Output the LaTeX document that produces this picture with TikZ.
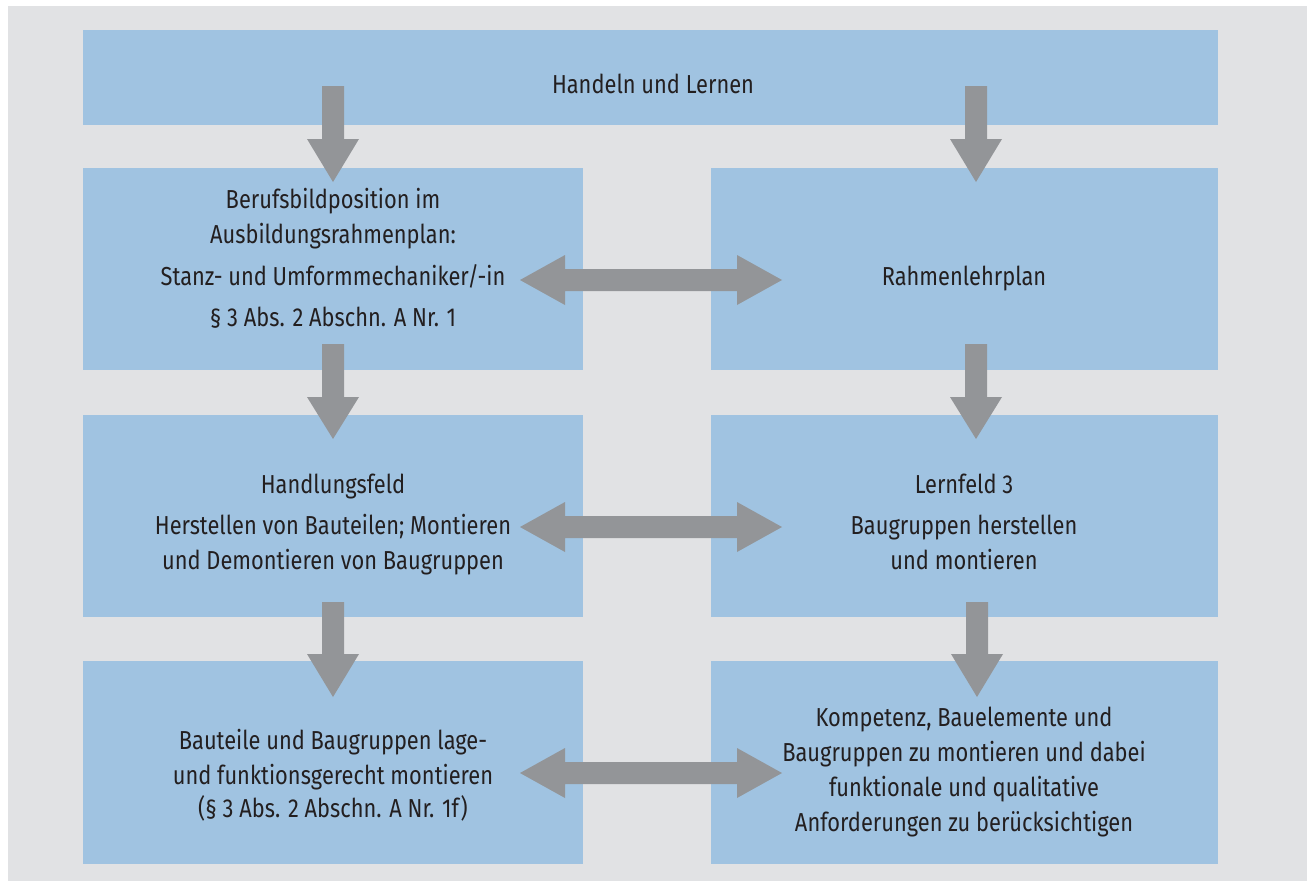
\documentclass[tikz,border=0pt]{standalone}
\usepackage{fontspec}
\setmainfont{Fira Sans}[FakeStretch=0.84]
\usetikzlibrary{calc}
\definecolor{bggray}{HTML}{E1E2E4}
\definecolor{boxblue}{HTML}{A0C3E1}
\definecolor{arrgray}{HTML}{939598}
\definecolor{txt}{HTML}{231F20}
\tikzset{
  box/.style={fill=boxblue, draw=none},
  lbl/.style={anchor=base, inner sep=0pt, text=txt, font=\fontsize{26}{35}\selectfont},
  blockarrow/.style={fill=arrgray, draw=none}
}
\newcommand{\lines}[1]{\begin{tabular}[t]{@{}c@{}}#1\end{tabular}}
\newcommand{\downarr}[4]{% x, shaft top, head base, tip
  \fill[blockarrow] (#1-11,#2) -- (#1+11,#2) -- (#1+11,#3) -- (#1+26,#3) -- (#1,#4) -- (#1-26,#3) -- (#1-11,#3) -- cycle;}
\newcommand{\duoarr}[1]{% y centre
  \fill[blockarrow] (520,#1) -- (565,#1-25) -- (565,#1-11) -- (737,#1-11) -- (737,#1-25) -- (782,#1) -- (737,#1+25) -- (737,#1+11) -- (565,#1+11) -- (565,#1+25) -- cycle;}
\begin{document}
\begin{tikzpicture}[x=1pt,y=-1pt]
\useasboundingbox (0,0) rectangle (1307,881);
\fill[white] (0,0) rectangle (1307,881);
\fill[bggray] (8,6) rectangle (1307,881);
% boxes
\path[box] (83,30) rectangle (1218,125) node[pos=0.5, inner sep=0] (top) {};
\path[box] (83,168) rectangle (583,370) node[pos=0.5, inner sep=0] (l2) {};
\path[box] (711,168) rectangle (1218,370) node[pos=0.5, inner sep=0] (r2) {};
\path[box] (83,415) rectangle (583,617) node[pos=0.5, inner sep=0] (l3) {};
\path[box] (711,415) rectangle (1218,617) node[pos=0.5, inner sep=0] (r3) {};
\path[box] (83,661) rectangle (583,864) node[pos=0.5, inner sep=0] (l4) {};
\path[box] (711,661) rectangle (1218,864) node[pos=0.5, inner sep=0] (r4) {};
% texts
\node[lbl] (ttop) at (653,93) {Handeln und Lernen};
\node[lbl] (tl2) at (333,208) {\lines{Berufsbildposition im\\ Ausbildungsrahmenplan:\\[7pt] Stanz- und Umformmechaniker/-in\\[6pt] \S\ 3 Abs. 2 Abschn. A Nr. 1}};
\node[lbl] (tr2) at (964,285) {Rahmenlehrplan};
\node[lbl] (tl3) at (333,493) {\lines{Handlungsfeld\\[6pt] Herstellen von Bauteilen; Montieren\\ und Demontieren von Baugruppen}};
\node[lbl] (tr3) at (964,493) {\lines{Lernfeld 3\\[6pt] Baugruppen herstellen\\ und montieren}};
\node[lbl] (tl4) at (333,749) {\lines{Bauteile und Baugruppen lage-\\ und funktionsgerecht montieren\\[-2pt] (\S\ 3 Abs. 2 Abschn. A Nr. 1f)}};
\node[lbl] (tr4) at (964,726) {\lines{Kompetenz, Bauelemente und\\ Baugruppen zu montieren und dabei\\ funktionale und qualitative\\ Anforderungen zu berücksichtigen}};
% arrows
\downarr{333}{86}{139}{182}
\downarr{976}{86}{139}{182}
\downarr{333}{344}{397}{439}
\downarr{976}{344}{397}{439}
\downarr{333}{602}{654}{697}
\downarr{977}{602}{654}{697}
\duoarr{280}
\duoarr{527}
\duoarr{773}
\end{tikzpicture}
\end{document}
